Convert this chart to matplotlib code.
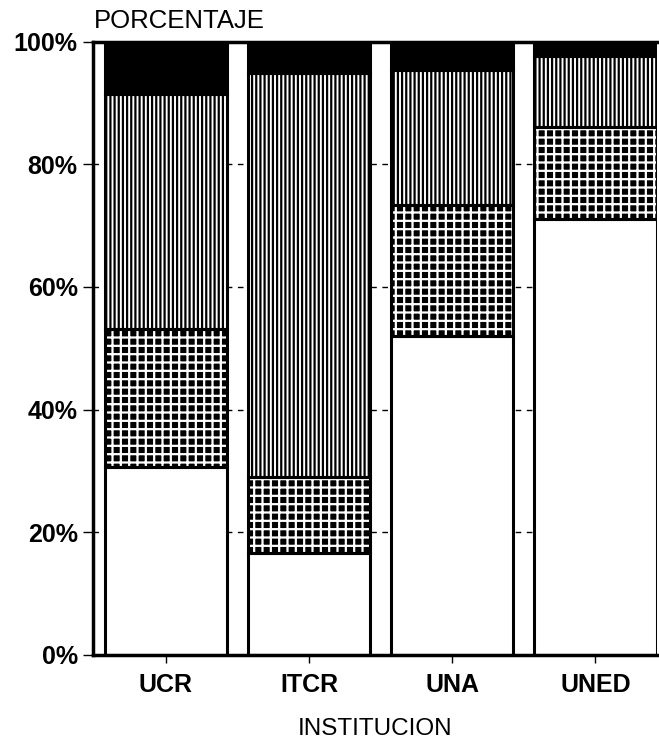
import numpy as np
import matplotlib
matplotlib.use("Agg")
import matplotlib.pyplot as plt

# datos (porcentajes por institucion)
instituciones = ["UCR", "ITCR", "UNA", "UNED"]
blanco = [30.7, 16.6, 52.0, 71.1]
ladrillo = [22.5, 12.4, 21.4, 15.0]
rayas = [38.2, 65.9, 22.0, 11.6]
negro = [8.6, 5.1, 4.6, 2.3]
yticks = [0, 20, 40, 60, 80, 100]

plt.rcParams['font.family'] = ['Liberation Sans', 'DejaVu Sans']
plt.rcParams['hatch.linewidth'] = 1.6

fig = plt.figure(figsize=(6.59, 7.45), dpi=100)
ax = fig.add_axes([0.141, 0.121, 0.856, 0.823])

x = np.arange(len(instituciones))
w = 0.855
base = np.zeros(len(x))

# blanco
ax.bar(x, blanco, w, bottom=base, color="white", linewidth=0, zorder=2)
base += blanco
# ladrillo: fondo negro con lineas blancas
ax.bar(x, ladrillo, w, bottom=base, color="black", edgecolor="white",
       hatch="--||", linewidth=0, zorder=2)
base += ladrillo
# rayas verticales
ax.bar(x, rayas, w, bottom=base, color="white", edgecolor="black",
       hatch="||||", linewidth=0, zorder=2)
base += rayas
# negro
ax.bar(x, negro, w, bottom=base, color="black", linewidth=0, zorder=2)
base += negro

# contornos de cada segmento
b = np.zeros(len(x))
for seg in [blanco, ladrillo, rayas, negro]:
    ax.bar(x, seg, w, bottom=b, facecolor="none", edgecolor="black",
           linewidth=2.2, zorder=3)
    b += seg

ax.set_xlim(-0.51, 3.43)
ax.set_ylim(0, 100)
ax.set_yticks(yticks)
ax.set_yticklabels([f"{t}%" for t in yticks], fontsize=18, fontweight="bold")
ax.set_xticks(x)
ax.set_xticklabels(instituciones, fontsize=18, fontweight="bold")
ax.tick_params(axis="x", length=6, width=1, pad=7)
ax.tick_params(axis="y", length=7, width=1, pad=4)

ax.yaxis.grid(True, linestyle=(0, (4, 4)), color="black", linewidth=1)
ax.set_axisbelow(True)

for s in ["left", "bottom", "top"]:
    ax.spines[s].set_linewidth(2.5)
ax.spines["right"].set_visible(False)

ax.set_xlabel("INSTITUCION", fontsize=17.5, labelpad=15)
fig.text(0.143, 0.962, "PORCENTAJE", fontsize=18.5,
         ha="left", va="baseline")

fig.savefig("out.png", dpi=100)
